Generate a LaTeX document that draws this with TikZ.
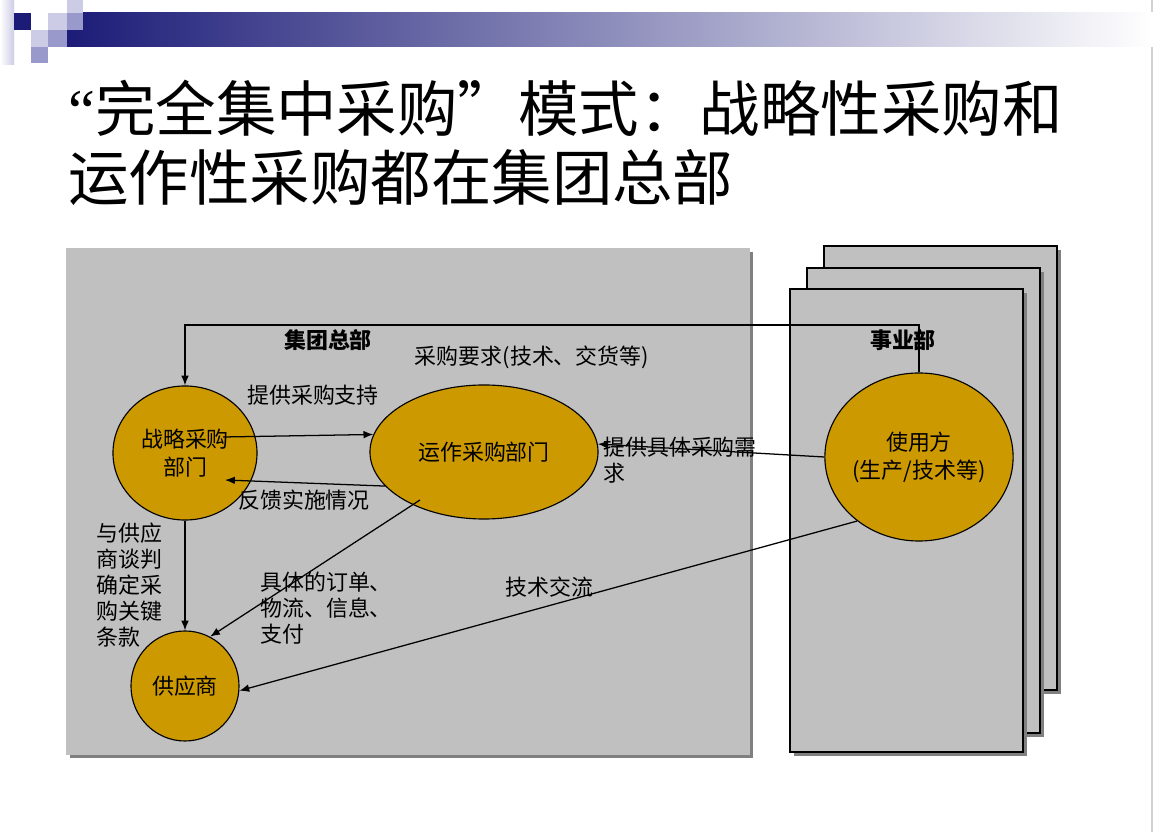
\documentclass[tikz,border=0pt]{standalone}
\usepackage{fontspec}
\setmainfont{Noto Sans CJK SC}
\newfontfamily\latinserif{Liberation Serif}
\usepackage{tikz}
\usetikzlibrary{shapes,arrows.meta,positioning}

\definecolor{panelgray}{RGB}{192,192,192}
\definecolor{shadowgray}{RGB}{128,128,128}
\definecolor{gold}{RGB}{204,153,0}
\definecolor{navy}{RGB}{28,28,120}
\definecolor{lavender}{RGB}{153,153,204}
\definecolor{palelav}{RGB}{204,204,230}

\begin{document}
\begin{tikzpicture}[x=0.025cm, y=-0.025cm, >={Latex[length=7pt,width=5.5pt]},
    node_style/.style={ellipse,draw=black,line width=0.8pt,fill=gold,inner sep=0pt,font=\fontsize{15.6}{20}\selectfont,align=center},
    edge_style/.style={draw=black,line width=0.9pt,->},
    label_style/.style={inner sep=0pt,font=\fontsize{15.6}{18.5}\selectfont,align=left},
    bold_label/.style={label_style,font=\bfseries\fontsize{15.6}{18.5}\selectfont},
    panel_style/.style={fill=panelgray,draw=black,line width=1.1pt},
    shadow_style/.style={fill=shadowgray}]

	% slide
	\useasboundingbox[fill=white] (0,0) rectangle (1153,832);
	\draw[gray!35,line width=1pt] (1152,0) -- (1152,832);

	% logo and title bar
	\shade[left color=white,right color=palelav] (0,0) rectangle (14,65);
	\shade[left color=navy,right color=white] (67,13) rectangle (1153,47);
	\fill[navy] (14,13) rectangle (31,30);
	\fill[palelav] (67,0) rectangle (83,13);
	\fill[palelav] (48,13) rectangle (67,30);
	\fill[lavender] (67,13) rectangle (83,30);
	\fill[palelav] (31,30) rectangle (48,47);
	\fill[lavender] (48,30) rectangle (67,47);
	\fill[lavender] (31,47) rectangle (48,63);

	\node[anchor=west,inner sep=0pt,font=\fontsize{43}{50}\selectfont] (title1) at (68,108) {{\latinserif “}完全集中采购”模式：战略性采购和};
	\node[anchor=west,inner sep=0pt,font=\fontsize{43}{50}\selectfont] (title2) at (68,178) {运作性采购都在集团总部};

	% group headquarters
	\fill[shadow_style] (70,252) rectangle (753,758);
	\fill[panelgray] (66,248) rectangle (750,755);

	% business units
	\fill[shadow_style] (828,250) rectangle (1061,694);
	\draw[panel_style] (824,246) rectangle (1057,690);
	\fill[shadow_style] (811,272) rectangle (1044,737);
	\draw[panel_style] (807,268) rectangle (1040,733);
	\fill[shadow_style] (794,293) rectangle (1027,756);
	\draw[panel_style] (790,289) rectangle (1023,752);

	\node[node_style,minimum width=3.6cm,minimum height=3.35cm] (strat) at (185,453) {战略采购\\部门};
	\node[node_style,minimum width=5.7cm,minimum height=3.35cm] (oper) at (484,452) {运作采购部门};
	\node[node_style,minimum width=4.55cm,minimum height=4.2cm] (user) at (919,457) {使用方\\(生产/技术等)};
	\node[node_style,minimum width=2.7cm,minimum height=2.75cm] (supp) at (185,686) {供应商};

	\node[bold_label] (hq_label) at (328,340) {集团总部};
	\node[bold_label] (bu_label) at (903,340) {事业部};
	\node[label_style] (req_label) at (532,357) {采购要求(技术、交货等)};
	\node[label_style] (support_label) at (313,395) {提供采购支持};
	\node[label_style] (feedback_label) at (304,500) {反馈实施情况};
	\node[label_style,anchor=west] (demand_label) at (603,460) {提供具体采购需\\求};
	\node[label_style,anchor=west] (negotiate_label) at (96,585) {与供应\\商谈判\\确定采\\购关键\\条款};
	\node[label_style,anchor=west] (order_label) at (260,608) {具体的订单、\\物流、信息、\\支付};
	\node[label_style,anchor=west] (tech_label) at (505,587) {技术交流};

	\coordinate (loop_turn) at (919,325);

	\draw[edge_style] (user.north) -- (loop_turn) -| (strat.north);
	\draw[edge_style] ([shift={(38,-16)}]strat.center) -- (oper.171);
	\draw[edge_style] (oper.199) -- ([shift={(40,27)}]strat.center);
	\draw[edge_style] (user.west) -- (oper.4);
	\draw[edge_style] (strat.south) -- (supp.north);
	\draw[edge_style] ([shift={(-64,48)}]oper.center) -- (supp.63);
	\draw[edge_style] (user.226) -- (supp.355);
\end{tikzpicture}
\end{document}
